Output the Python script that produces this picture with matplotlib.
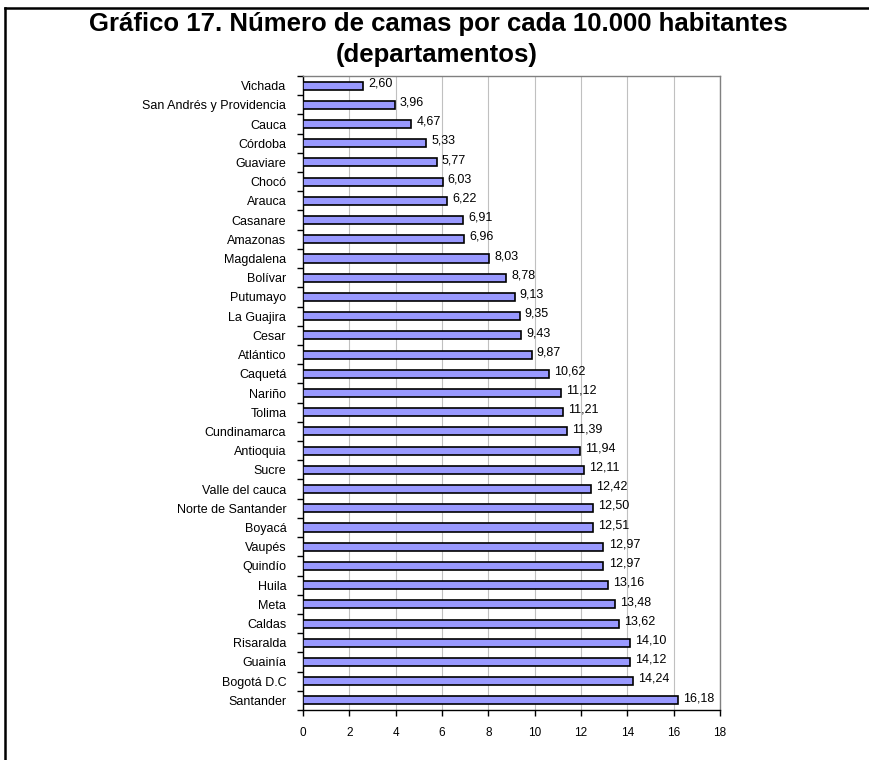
import matplotlib
matplotlib.use("Agg")
import matplotlib.pyplot as plt
from matplotlib.lines import Line2D
import numpy as np

plt.rcParams["font.family"] = ["Liberation Sans", "DejaVu Sans"]

departamentos = [
    "Vichada", "San Andrés y Providencia", "Cauca", "Córdoba", "Guaviare",
    "Chocó", "Arauca", "Casanare", "Amazonas", "Magdalena", "Bolívar",
    "Putumayo", "La Guajira", "Cesar", "Atlántico", "Caquetá", "Nariño",
    "Tolima", "Cundinamarca", "Antioquia", "Sucre", "Valle del cauca",
    "Norte de Santander", "Boyacá", "Vaupés", "Quindío", "Huila", "Meta",
    "Caldas", "Risaralda", "Guainía", "Bogotá D.C", "Santander",
]
camas = [
    2.60, 3.96, 4.67, 5.33, 5.77, 6.03, 6.22, 6.91, 6.96, 8.03, 8.78,
    9.13, 9.35, 9.43, 9.87, 10.62, 11.12, 11.21, 11.39, 11.94, 12.11,
    12.42, 12.50, 12.51, 12.97, 12.97, 13.16, 13.48, 13.62, 14.10,
    14.12, 14.24, 16.18,
]
x_ticks = [0, 2, 4, 6, 8, 10, 12, 14, 16, 18]

fig = plt.figure(figsize=(8.69, 7.6), dpi=100)
ax = fig.add_axes([303 / 869, 1 - 710 / 760, 417 / 869, 634 / 760])

y = np.arange(len(departamentos))
ax.barh(y, camas, height=0.42, color="#9999ff", edgecolor="black",
        linewidth=1.2, zorder=3)

for yi, v in zip(y, camas):
    ax.text(v + 0.22, yi - 0.12, f"{v:.2f}".replace(".", ","),
            va="center", ha="left", fontsize=9, zorder=4)

ax.set_xlim(0, 18)
ax.set_ylim(len(departamentos) - 0.5, -0.5)
ax.set_xticks(x_ticks)
ax.set_xticklabels([str(t) for t in x_ticks], fontsize=8.5)
ax.set_yticks(y)
ax.set_yticklabels(departamentos, fontsize=9)
ax.tick_params(axis="y", which="major", length=0, pad=12)
ax.set_yticks(np.arange(-0.5, len(departamentos) + 0.5, 1), minor=True)
ax.tick_params(axis="y", which="minor", length=4, width=1, direction="out")
ax.tick_params(axis="x", length=4, width=1, direction="out", pad=8)

ax.grid(axis="x", color="#c0c0c0", linewidth=0.8, zorder=0)
for side in ("top", "right"):
    ax.spines[side].set_color("#808080")
    ax.spines[side].set_linewidth(1.0)
for side in ("left", "bottom"):
    ax.spines[side].set_color("black")
    ax.spines[side].set_linewidth(1.0)

fig.text(438 / 869, 1 - 24 / 760, "Gráfico 17. Número de camas por cada 10.000 habitantes",
         ha="center", va="center", fontsize=18.5, fontweight="bold")
fig.text(437 / 869, 1 - 55 / 760, "(departamentos)",
         ha="center", va="center", fontsize=18.5, fontweight="bold")

# page frame lines (top and left)
fig.add_artist(Line2D([5 / 869, 1], [1 - 8 / 760, 1 - 8 / 760],
                      transform=fig.transFigure, color="black", linewidth=1.8))
fig.add_artist(Line2D([5 / 869, 5 / 869], [0, 1 - 8 / 760],
                      transform=fig.transFigure, color="black", linewidth=1.8))

fig.savefig("out.png", dpi=100)
